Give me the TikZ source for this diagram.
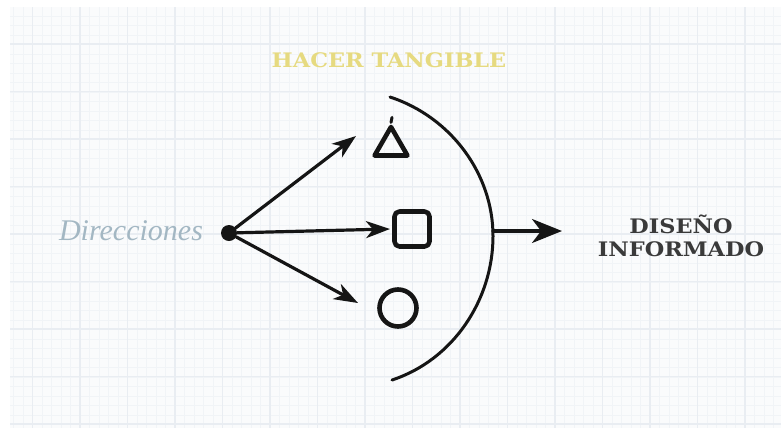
\documentclass[tikz,border=0pt]{standalone}
\usepackage{fontspec}
\usetikzlibrary{arrows.meta,shapes.geometric}
\newfontfamily\slabfont{DejaVu Serif}[FakeStretch=1.12]
\newfontfamily\handfont{Liberation Serif}
\definecolor{gridmajor}{HTML}{E9EDF2}
\definecolor{gridminor}{HTML}{F1F4F7}
\definecolor{paper}{HTML}{FAFBFC}
\definecolor{titleyellow}{HTML}{E6DA80}
\definecolor{dirblue}{HTML}{A3B7C3}
\definecolor{ink}{HTML}{151515}
\definecolor{label}{HTML}{3A3A3A}
\tikzset{
  inkline/.style={draw=ink, line width=3.2pt, line cap=round, line join=round},
  inkarrow/.style={inkline, -{Stealth[length=24pt,width=17pt,inset=7pt]}},
  bigarrow/.style={inkline, -{Stealth[length=30pt,width=24pt,inset=9pt]}},
  sketch/.style={draw=ink, line width=4.6pt, inner sep=0pt, line join=round},
  caps/.style={font=\slabfont\bfseries\fontsize{20}{23}\selectfont}
}
\begin{document}
\begin{tikzpicture}[x=1pt,y=-1pt]
\useasboundingbox (0,0) rectangle (781,432);
\fill[white] (0,0) rectangle (781,432);
% squared paper
\begin{scope}
  \clip (10,7) rectangle (781,428);
  \fill[paper] (10,7) rectangle (781,428);
  \foreach \gx in {4,13.5,...,781} \draw[gridminor, line width=0.8pt] (\gx,7) -- (\gx,428);
  \foreach \gy in {6.5,16,...,428} \draw[gridminor, line width=0.8pt] (10,\gy) -- (781,\gy);
  \foreach \gx in {32.5,80,...,781} \draw[gridmajor, line width=1.4pt] (\gx,7) -- (\gx,428);
  \foreach \gy in {44,91.5,...,428} \draw[gridmajor, line width=1.4pt] (10,\gy) -- (781,\gy);
\end{scope}

% labels
\node[caps, text=titleyellow] (title) at (389,60) {HACER TANGIBLE};
\node[font=\handfont\itshape\fontsize{30}{30}\selectfont, text=dirblue] (dir) at (131,231) {Direcciones};
\node[caps, text=label, align=center] (result) at (681,236) {DISEÑO\\INFORMADO};

% starting point
\node[circle, fill=ink, minimum size=16pt, inner sep=0pt] (dot) at (229,233) {};

% sketched outcomes
\node[sketch, regular polygon, regular polygon sides=3, minimum size=38pt] (tri) at (391,146) {};
\draw[ink, line width=3pt, line cap=round] (tri.corner 1) -- ++(1,-5);
\node[sketch, rectangle, rounded corners=5pt, minimum size=35pt] (sq) at (412,229) {};
\node[sketch, circle, minimum size=37pt] (circ) at (398,308) {};

% arrow ends
\coordinate (t1) at (356,136);
\coordinate (t2) at (390,229);
\coordinate (t3) at (358,303);
\draw[inkarrow] (dot) -- (t1);
\draw[inkarrow] (dot) -- (t2);
\draw[inkarrow] (dot) -- (t3);

% bracket arc and outcome arrow
\coordinate (arctop) at (390,97);
\coordinate (arcmid) at (493,236);
\coordinate (arcbot) at (392,380);
\draw[inkline, line width=3pt] (arctop) .. controls (451,117) and (493,174) .. (arcmid)
  .. controls (493,300) and (453,360) .. (arcbot);
\coordinate (out) at (562,231);
\draw[bigarrow] (arcmid |- out) -- (out);
\end{tikzpicture}
\end{document}
